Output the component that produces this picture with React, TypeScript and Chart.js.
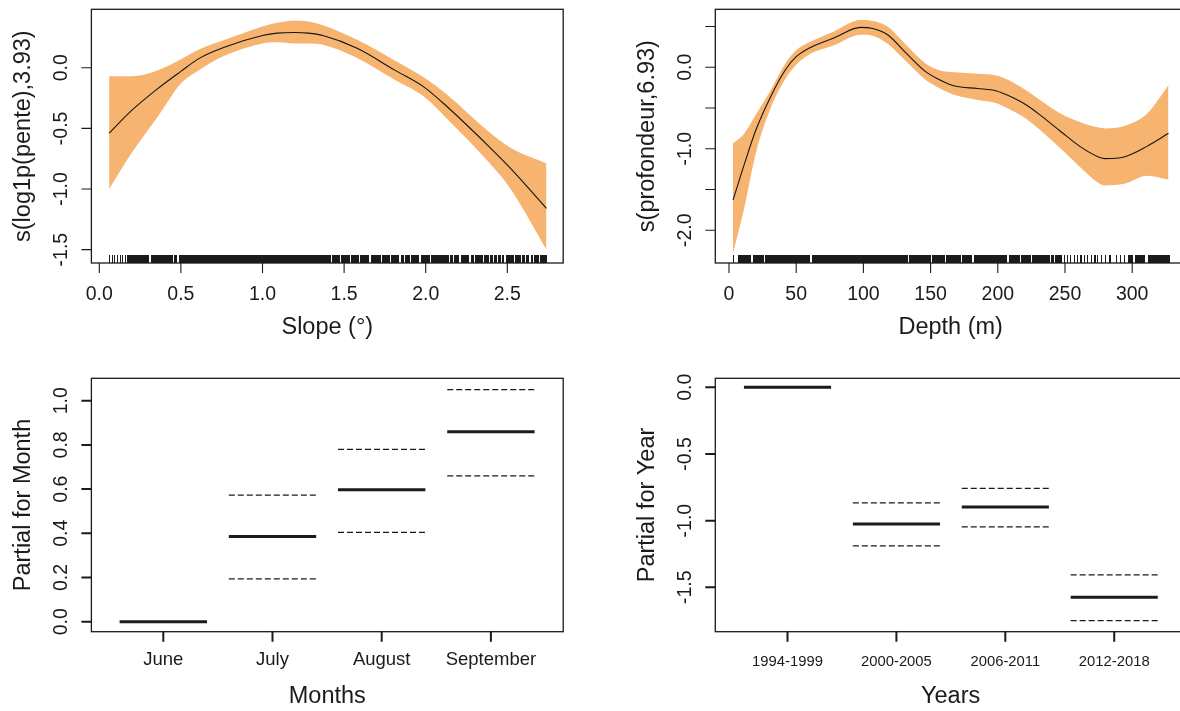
import React, { useEffect, useRef } from 'react';
import { Chart, registerables } from 'chart.js';

Chart.register(...registerables);

// ---------------- Panel 1 : slope smooth ----------------
const slopeX = [0.06, 0.2, 0.36, 0.5, 0.61, 0.77, 1.0, 1.09, 1.2, 1.28, 1.37, 1.58, 1.81, 1.99, 2.13, 2.38, 2.52, 2.74];
const slopeFit = [-0.54, -0.35, -0.17, -0.03, 0.075, 0.17, 0.265, 0.285, 0.29, 0.285, 0.265, 0.16, -0.02, -0.16, -0.32, -0.64, -0.83, -1.16];
const slopeUpper = [-0.07, -0.07, -0.02, 0.07, 0.15, 0.23, 0.34, 0.37, 0.39, 0.38, 0.35, 0.23, 0.06, -0.08, -0.22, -0.52, -0.66, -0.79];
const slopeLower = [-1.0, -0.7, -0.4, -0.13, -0.02, 0.1, 0.2, 0.21, 0.2, 0.2, 0.19, 0.08, -0.1, -0.24, -0.42, -0.77, -1.0, -1.5];
const slopeRug: [number, number][] = [
  [0.058, 0.058], [0.075, 0.075], [0.092, 0.092], [0.11, 0.11], [0.125, 0.125], [0.142, 0.142], [0.155, 0.155],
  [0.17, 0.3], [0.315, 0.345], [0.355, 0.395], [0.405, 0.45], [0.46, 0.475], [0.487, 1.41],
  [1.425, 1.465], [1.48, 1.49], [1.5, 1.53], [1.545, 1.59], [1.6, 1.65], [1.665, 1.72], [1.735, 1.775],
  [1.79, 1.835], [1.85, 1.865], [1.875, 1.9], [1.91, 1.955], [1.97, 2.02], [2.03, 2.08], [2.09, 2.14],
  [2.15, 2.165], [2.175, 2.2], [2.215, 2.222], [2.23, 2.26], [2.275, 2.29], [2.3, 2.325], [2.335, 2.35],
  [2.36, 2.385], [2.395, 2.41], [2.42, 2.43], [2.445, 2.46], [2.47, 2.475], [2.49, 2.52], [2.53, 2.535],
  [2.55, 2.58], [2.59, 2.6], [2.615, 2.63], [2.645, 2.65], [2.665, 2.69], [2.7, 2.71], [2.72, 2.74],
];
const slopeXTicks = [0, 0.5, 1, 1.5, 2, 2.5];
const slopeXTickLabels = ['0.0', '0.5', '1.0', '1.5', '2.0', '2.5'];
const slopeYTicks = [-1.5, -1, -0.5, 0];
const slopeYTickLabels = ['-1.5', '-1.0', '-0.5', '0.0'];

// ---------------- Panel 2 : depth smooth ----------------
const depthX = [3, 11, 20, 31, 42, 50, 59, 78, 98, 106, 118, 132, 146, 157, 168, 185, 199, 207, 221, 233, 247, 261, 275, 280, 294, 311, 327];
const depthFit = [-1.63, -1.21, -0.77, -0.36, -0.03, 0.13, 0.23, 0.36, 0.49, 0.48, 0.4, 0.17, -0.05, -0.155, -0.23, -0.26, -0.29, -0.34, -0.46, -0.605, -0.79, -0.97, -1.1, -1.12, -1.1, -0.97, -0.81];
const depthUpper = [-0.93, -0.82, -0.58, -0.28, 0.05, 0.21, 0.3, 0.44, 0.58, 0.57, 0.5, 0.27, 0.05, -0.04, -0.06, -0.08, -0.1, -0.15, -0.28, -0.42, -0.57, -0.67, -0.74, -0.75, -0.72, -0.57, -0.22];
const depthLower = [-2.28, -1.75, -1.05, -0.5, -0.14, 0.03, 0.15, 0.27, 0.4, 0.39, 0.29, 0.07, -0.15, -0.26, -0.34, -0.4, -0.44, -0.5, -0.63, -0.79, -1.0, -1.22, -1.42, -1.45, -1.43, -1.33, -1.38];
const depthRug: [number, number][] = [
  [3, 3], [7, 16], [17.5, 25], [27, 59.5], [61.5, 132.5], [134, 149.5], [151, 160], [161.5, 172],
  [173.5, 180.5], [182, 194.5], [196, 206.5], [208, 215.5], [217, 224], [225.5, 238], [239.5, 241],
  [242.5, 247], [249, 249], [251.5, 251.5], [254, 254], [256.5, 256.5], [259, 259], [261, 262], [264, 264],
  [266.5, 266.5], [269, 269], [271.5, 272.5], [274, 274], [277, 277], [280, 280], [283, 284], [288, 288],
  [291, 291], [294, 294], [297, 300], [302, 309], [311.5, 327],
];
const depthXTicks = [0, 50, 100, 150, 200, 250, 300];
const depthXTickLabels = ['0', '50', '100', '150', '200', '250', '300'];
const depthYTicks = [-2, -1.5, -1, -0.5, 0, 0.5];
const depthYTickLabels = ['-2.0', '', '-1.0', '', '0.0', ''];

// ---------------- Panel 3 : month partial ----------------
const months = ['June', 'July', 'August', 'September'];
const monthFit = [0, 0.386, 0.597, 0.86];
const monthUpper: (number | null)[] = [null, 0.573, 0.78, 1.05];
const monthLower: (number | null)[] = [null, 0.194, 0.404, 0.66];
const monthYTicks = [0, 0.2, 0.4, 0.6, 0.8, 1.0];
const monthYTickLabels = ['0.0', '0.2', '0.4', '0.6', '0.8', '1.0'];

// ---------------- Panel 4 : year partial ----------------
const years = ['1994-1999', '2000-2005', '2006-2011', '2012-2018'];
const yearFit = [0, -1.025, -0.8975, -1.575];
const yearUpper: (number | null)[] = [null, -0.8675, -0.7575, -1.4075];
const yearLower: (number | null)[] = [null, -1.19, -1.0475, -1.75];
const yearYTicks = [-1.5, -1, -0.5, 0];
const yearYTickLabels = ['-1.5', '-1.0', '-0.5', '0.0'];

// ---------------- styling ----------------
const FONT = '"Liberation Sans", Arial, sans-serif';
const INK = '#1b1b1b';
const BAND = 'rgb(246,180,112)';
const CW = 1190;
const CH = 711;
const HALF = 0.4;

type PanelCfg = {
  area: { left: number; top: number; right: number; bottom: number };
  xRange: [number, number];
  yRange: [number, number];
  xTicks: number[];
  xTickLabels: string[];
  yTicks: number[];
  yTickLabels: string[];
  xTitle: string;
  yTitle: string;
  xTickFont: number;
  xTickOffset: number;
  tickWidth: number;
  rug?: [number, number][];
  datasets: any[];
};

function pts(xs: number[], ys: number[]) {
  return xs.map((x, i) => ({ x, y: ys[i] }));
}

function segs(values: (number | null)[]) {
  const out: any[] = [];
  values.forEach((v, i) => {
    if (v === null) return;
    out.push({ x: i - HALF, y: v }, { x: i + HALF, y: v }, { x: i + HALF + 0.05, y: null });
  });
  return out;
}

function smoothSets(x: number[], fit: number[], up: number[], lo: number[]) {
  // Chart.js paints datasets last-to-first, so the fitted line goes first to sit on top of the band
  return [
    { data: pts(x, fit), borderWidth: 1.1, borderColor: '#151515', pointRadius: 0, fill: false, cubicInterpolationMode: 'monotone' },
    { data: pts(x, up), borderWidth: 0, borderColor: BAND, pointRadius: 0, fill: '+1', backgroundColor: BAND, cubicInterpolationMode: 'monotone' },
    { data: pts(x, lo), borderWidth: 0, borderColor: BAND, pointRadius: 0, fill: false, cubicInterpolationMode: 'monotone' },
  ];
}

function partialSets(fit: number[], up: (number | null)[], lo: (number | null)[]) {
  return [
    { data: segs(fit), borderWidth: 3, borderColor: INK, pointRadius: 0, fill: false, borderCapStyle: 'butt' },
    { data: segs(up), borderWidth: 1.3, borderColor: INK, borderDash: [6, 3], pointRadius: 0, fill: false, borderCapStyle: 'butt' },
    { data: segs(lo), borderWidth: 1.3, borderColor: INK, borderDash: [6, 3], pointRadius: 0, fill: false, borderCapStyle: 'butt' },
  ];
}

function rPlotPlugin(p: PanelCfg) {
  return {
    id: 'rplot',
    afterDatasetsDraw(chart: any) {
      const ctx = chart.ctx as CanvasRenderingContext2D;
      const a = chart.chartArea;
      const xs = chart.scales.x;
      const ys = chart.scales.y;
      ctx.save();
      // rug
      if (p.rug) {
        ctx.fillStyle = INK;
        for (const [s, e] of p.rug) {
          const x0 = xs.getPixelForValue(s);
          const x1 = xs.getPixelForValue(e);
          ctx.fillRect(Math.round(x0), a.bottom - 8, Math.max(1, Math.round(x1 - x0) + 1), 8);
        }
      }
      // box
      ctx.strokeStyle = INK;
      ctx.lineWidth = 1.3;
      ctx.strokeRect(a.left, a.top, a.right - a.left, a.bottom - a.top);
      // ticks
      ctx.lineWidth = p.tickWidth;
      ctx.beginPath();
      p.xTicks.forEach((v) => {
        const x = xs.getPixelForValue(v);
        ctx.moveTo(x, a.bottom);
        ctx.lineTo(x, a.bottom + 10);
      });
      p.yTicks.forEach((v) => {
        const y = ys.getPixelForValue(v);
        ctx.moveTo(a.left, y);
        ctx.lineTo(a.left - 10, y);
      });
      ctx.stroke();
      ctx.fillStyle = INK;
      ctx.textAlign = 'center';
      ctx.textBaseline = 'middle';
      // x tick labels
      ctx.font = `${p.xTickFont}px ${FONT}`;
      p.xTicks.forEach((v, i) => {
        ctx.fillText(p.xTickLabels[i], xs.getPixelForValue(v), a.bottom + p.xTickOffset);
      });
      // y tick labels (rotated, R style)
      ctx.font = `19.5px ${FONT}`;
      p.yTicks.forEach((v, i) => {
        const t = p.yTickLabels[i];
        if (!t) return;
        ctx.save();
        ctx.translate(a.left - 30, ys.getPixelForValue(v));
        ctx.rotate(-Math.PI / 2);
        ctx.fillText(t, 0, 0);
        ctx.restore();
      });
      // axis titles
      ctx.font = `23.5px ${FONT}`;
      ctx.fillText(p.xTitle, (a.left + a.right) / 2, a.bottom + 65);
      ctx.save();
      ctx.translate(a.left - 68, (a.top + a.bottom) / 2);
      ctx.rotate(-Math.PI / 2);
      ctx.fillText(p.yTitle, 0, 0);
      ctx.restore();
      ctx.restore();
    },
  };
}

function makeConfig(p: PanelCfg): any {
  return {
    type: 'line',
    data: { datasets: p.datasets },
    options: {
      animation: false,
      responsive: false,
      devicePixelRatio: 1,
      events: [],
      layout: {
        padding: {
          left: p.area.left,
          top: p.area.top,
          right: CW - p.area.right,
          bottom: CH - p.area.bottom,
        },
      },
      plugins: { legend: { display: false }, tooltip: { enabled: false }, filler: { propagate: false } },
      scales: {
        x: { type: 'linear', min: p.xRange[0], max: p.xRange[1], display: false },
        y: { type: 'linear', min: p.yRange[0], max: p.yRange[1], display: false },
      },
    },
    plugins: [rPlotPlugin(p)],
  };
}

const panels: PanelCfg[] = [
  {
    area: { left: 91.4, top: 9.3, right: 563.2, bottom: 263 },
    xRange: [-0.0484, 2.8425],
    yRange: [-1.61, 0.4815],
    xTicks: slopeXTicks,
    xTickLabels: slopeXTickLabels,
    yTicks: slopeYTicks,
    yTickLabels: slopeYTickLabels,
    xTitle: 'Slope (°)',
    yTitle: 's(log1p(pente),3.93)',
    xTickFont: 19.5,
    xTickOffset: 32,
    tickWidth: 1.1,
    rug: slopeRug,
    datasets: smoothSets(slopeX, slopeFit, slopeUpper, slopeLower),
  },
  {
    area: { left: 715.3, top: 9.3, right: 1186, bottom: 263 },
    xRange: [-10.19, 340.03],
    yRange: [-2.401, 0.7117],
    xTicks: depthXTicks,
    xTickLabels: depthXTickLabels,
    yTicks: depthYTicks,
    yTickLabels: depthYTickLabels,
    xTitle: 'Depth (m)',
    yTitle: 's(profondeur,6.93)',
    xTickFont: 19.5,
    xTickOffset: 32,
    tickWidth: 1.1,
    rug: depthRug,
    datasets: smoothSets(depthX, depthFit, depthUpper, depthLower),
  },
  {
    area: { left: 91.4, top: 378.3, right: 563.2, bottom: 631.7 },
    xRange: [-0.6584, 3.662],
    yRange: [-0.04525, 1.1014],
    xTicks: months.map((_, i) => i),
    xTickLabels: months,
    yTicks: monthYTicks,
    yTickLabels: monthYTickLabels,
    xTitle: 'Months',
    yTitle: 'Partial for Month',
    xTickFont: 18.5,
    xTickOffset: 28.5,
    tickWidth: 2,
    datasets: partialSets(monthFit, monthUpper, monthLower),
  },
  {
    area: { left: 715.3, top: 378.3, right: 1186, bottom: 631.7 },
    xRange: [-0.663, 3.659],
    yRange: [-1.833, 0.0675],
    xTicks: years.map((_, i) => i),
    xTickLabels: years,
    yTicks: yearYTicks,
    yTickLabels: yearYTickLabels,
    xTitle: 'Years',
    yTitle: 'Partial for Year',
    xTickFont: 14.8,
    xTickOffset: 30,
    tickWidth: 2,
    datasets: partialSets(yearFit, yearUpper, yearLower),
  },
];

function PanelCanvas({ cfg }: { cfg: PanelCfg }) {
  const ref = useRef<HTMLCanvasElement>(null);
  useEffect(() => {
    const chart = new Chart(ref.current as HTMLCanvasElement, makeConfig(cfg));
    return () => chart.destroy();
  }, [cfg]);
  return (
    <canvas
      ref={ref}
      width={CW}
      height={CH}
      style={{ position: 'absolute', left: 0, top: 0, width: CW, height: CH }}
    />
  );
}

export default function App() {
  return (
    <div
      style={{
        position: 'absolute',
        left: 0,
        top: 0,
        width: 1180,
        height: 711,
        overflow: 'hidden',
        background: '#ffffff',
      }}
    >
      {panels.map((p, i) => (
        <PanelCanvas key={i} cfg={p} />
      ))}
    </div>
  );
}
